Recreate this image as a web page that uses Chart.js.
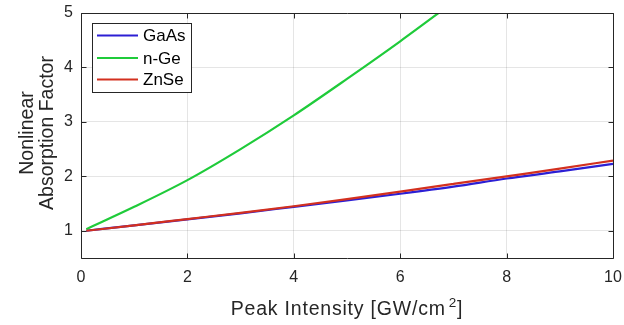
<!DOCTYPE html>
<html>
<head>
<meta charset="utf-8">
<script src="https://cdn.jsdelivr.net/npm/chart.js@4.4.1/dist/chart.umd.min.js"></script>
<style>
html,body{margin:0;padding:0;background:#fff;}
#wrap{width:624px;height:325px;position:relative;}
</style>
</head>
<body>
<div id="wrap"><canvas id="c" width="624" height="325"></canvas></div>
<script>
// Data
const intensity = [0.1, 1, 2, 3, 4, 5, 6, 7, 8, 9, 10];
const gaAs = [1.00, 1.10, 1.21, 1.32, 1.44, 1.56, 1.68, 1.81, 1.96, 2.09, 2.23];
const nGe  = [1.03, 1.44, 1.93, 2.50, 3.12, 3.79, 4.48, 5.20, null, null, null];
const znSe = [1.00, 1.10, 1.215, 1.33, 1.45, 1.58, 1.72, 1.86, 2.00, 2.14, 2.29];
const seriesNames = ['GaAs', 'n-Ge', 'ZnSe'];
const seriesColors = ['#2c1fd4', '#1fcb3a', '#d3301f'];
const xTicks = [0, 2, 4, 6, 8, 10];
const yTicks = [1, 2, 3, 4, 5];
const xTitleMain = 'Peak Intensity [GW/cm';
const xTitleSup = '2';
const xTitleEnd = ']';
const yTitleLines = ['Nonlinear', 'Absorption Factor'];

const FONT = '"Liberation Sans", Arial, Helvetica, sans-serif';
const TXT = '#262626';

function pts(ys) {
  const out = [];
  intensity.forEach((x, i) => { if (ys[i] !== null) out.push({x: x, y: ys[i]}); });
  return out;
}

const frame = {
  id: 'frame',
  afterDatasetsDraw(chart) {
    const ctx = chart.ctx, a = chart.chartArea;
    const xs = chart.scales.x, ys = chart.scales.y;
    ctx.save();
    ctx.strokeStyle = TXT;
    ctx.lineWidth = 1;
    ctx.beginPath();
    const L = Math.round(a.left) + 0.5, R = Math.round(a.right) + 0.5;
    const T = Math.round(a.top) + 0.5, B = Math.round(a.bottom) + 0.5;
    ctx.rect(L, T, R - L, B - T);
    const tl = 5;
    xTicks.forEach(v => {
      const px = Math.round(xs.getPixelForValue(v)) + 0.5;
      ctx.moveTo(px, B); ctx.lineTo(px, B - tl);
      ctx.moveTo(px, T); ctx.lineTo(px, T + tl);
    });
    yTicks.forEach(v => {
      const py = Math.round(ys.getPixelForValue(v)) + 0.5;
      ctx.moveTo(L, py); ctx.lineTo(L + tl, py);
      ctx.moveTo(R, py); ctx.lineTo(R - tl, py);
    });
    ctx.stroke();

    // legend box
    const bx = 92, by = 23, bw = 99, bh = 69;
    ctx.fillStyle = '#fff';
    ctx.fillRect(bx, by, bw, bh);
    ctx.strokeStyle = TXT;
    ctx.strokeRect(bx + 0.5, by + 0.5, bw, bh);
    const rows = [35.5, 58, 79.5];
    ctx.font = '17px ' + FONT;
    ctx.textBaseline = 'middle';
    ctx.textAlign = 'left';
    chart.data.datasets.forEach((d, i) => {
      ctx.strokeStyle = d.borderColor;
      ctx.lineWidth = 2.2;
      ctx.beginPath();
      ctx.moveTo(97, rows[i]); ctx.lineTo(138, rows[i]);
      ctx.stroke();
      ctx.fillStyle = '#000';
      ctx.fillText(d.label, 143, rows[i] + 1);
    });
    ctx.restore();

    // axis titles
    ctx.save();
    ctx.fillStyle = TXT;
    ctx.textBaseline = 'alphabetic';
    ctx.textAlign = 'left';
    const cx = (a.left + a.right) / 2;
    const mainFont = '19.5px ' + FONT, supFont = '13.5px ' + FONT;
    if ('letterSpacing' in ctx) ctx.letterSpacing = '0.8px';
    ctx.font = mainFont;
    const w1 = ctx.measureText(xTitleMain).width;
    ctx.font = supFont;
    const w2 = ctx.measureText(xTitleSup).width;
    ctx.font = mainFont;
    const w3 = ctx.measureText(xTitleEnd).width;
    const gap = 3;
    let x0 = cx - (w1 + gap + w2 + w3) / 2;
    const base = 315;
    ctx.fillText(xTitleMain, x0, base);
    ctx.font = supFont;
    ctx.fillText(xTitleSup, x0 + w1 + gap, base - 8);
    ctx.font = mainFont;
    ctx.fillText(xTitleEnd, x0 + w1 + gap + w2, base);
    if ('letterSpacing' in ctx) ctx.letterSpacing = '0px';

    ctx.textAlign = 'center';
    ctx.font = mainFont;
    const cy = 133;
    [33, 52.5].forEach((bxl, i) => {
      ctx.save();
      ctx.translate(bxl, cy);
      ctx.rotate(-Math.PI / 2);
      ctx.fillText(yTitleLines[i], 0, 0);
      ctx.restore();
    });
    ctx.restore();
  }
};

new Chart(document.getElementById('c'), {
  type: 'line',
  data: {
    datasets: [
      {label: seriesNames[0], data: pts(gaAs), borderColor: seriesColors[0], order: 3},
      {label: seriesNames[1], data: pts(nGe), borderColor: seriesColors[1], order: 2},
      {label: seriesNames[2], data: pts(znSe), borderColor: seriesColors[2], order: 1}
    ].map(d => Object.assign(d, {borderWidth: 2.2, pointRadius: 0, fill: false, cubicInterpolationMode: 'monotone'}))
  },
  options: {
    responsive: false,
    animation: false,
    events: [],
    layout: {padding: {top: 13, right: 11, left: 0, bottom: 0}},
    plugins: {legend: {display: false}, tooltip: {enabled: false}},
    scales: {
      x: {
        type: 'linear', min: 0, max: 10,
        afterBuildTicks: s => { s.ticks = xTicks.map(v => ({value: v})); },
        afterFit: s => { s.height = 67; s.paddingLeft = 0; s.paddingRight = 0; },
        grid: {color: 'rgba(0,0,0,0.1)', drawTicks: false},
        border: {display: false},
        ticks: {color: TXT, font: {family: FONT, size: 16}, padding: 10, maxRotation: 0},
        title: {display: false}
      },
      y: {
        type: 'linear', min: 0.5, max: 5,
        afterBuildTicks: s => { s.ticks = yTicks.map(v => ({value: v})); },
        afterFit: s => { s.width = 81; s.paddingTop = 0; s.paddingBottom = 0; },
        grid: {color: 'rgba(0,0,0,0.1)', drawTicks: false},
        border: {display: false},
        ticks: {color: TXT, font: {family: FONT, size: 16}, padding: 8},
        title: {display: false}
      }
    }
  },
  plugins: [frame]
});
</script>
</body>
</html>
